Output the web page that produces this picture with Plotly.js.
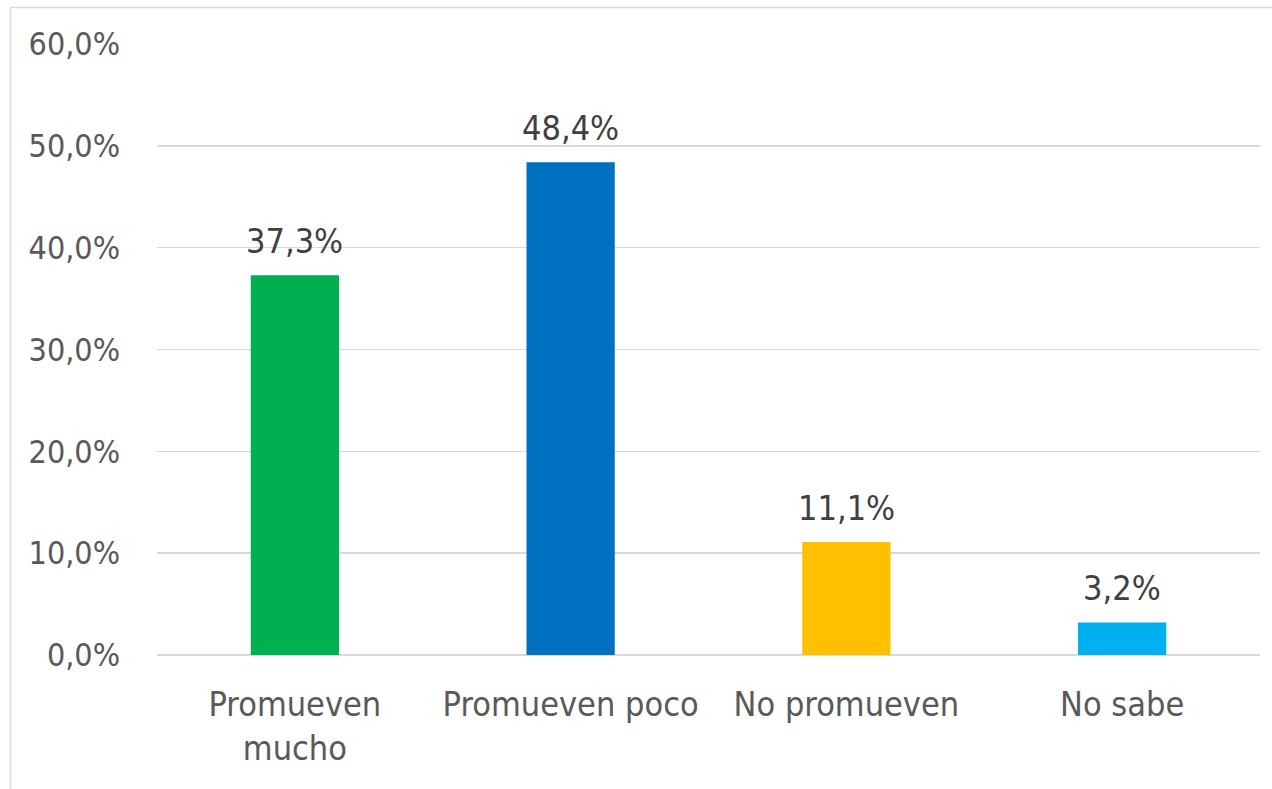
<!DOCTYPE html>
<html>
<head>
<meta charset="utf-8">
<script src="https://cdn.plot.ly/plotly-3.0.1.min.js"></script>
<style>
html,body{margin:0;padding:0;background:#fff;}
#chart{width:1272px;height:789px;}
</style>
</head>
<body>
<div id="chart"></div>
<script>
const categories = ["Promueven<br>mucho", "Promueven poco", "No promueven", "No sabe"];
const values = [37.3, 48.4, 11.1, 3.2];
const barColors = ["#00B050", "#0070C0", "#FFC000", "#00B0F0"];
const tickValues = [0, 10, 20, 30, 40, 50, 60];
const tickLabels = ["0,0%", "10,0%", "20,0%", "30,0%", "40,0%", "50,0%", "60,0%"];
const valueLabels = ["37,3%", "48,4%", "11,1%", "3,2%"];

const FONT = "'DejaVu Sans Condensed', 'DejaVu Sans', sans-serif";
const L = 157, R = 12, T = 44, B = 134;
const W = 1272, H = 789;
const pw = W - L - R, ph = H - T - B;

const trace = {
  type: 'bar',
  x: categories,
  y: values,
  marker: {color: barColors},
  width: 0.32,
  hoverinfo: 'none'
};

const annotations = categories.map((c, i) => ({
  x: c, y: values[i], xref: 'x', yref: 'y',
  text: valueLabels[i],
  showarrow: false,
  yanchor: 'bottom',
  yshift: 12,
  font: {family: FONT, size: 34, color: '#404040'}
}));

const layout = {
  width: W, height: H,
  margin: {l: L, r: R, t: T, b: B, pad: 0},
  paper_bgcolor: '#ffffff',
  plot_bgcolor: '#ffffff',
  showlegend: false,
  font: {family: FONT, size: 34, color: '#595959'},
  xaxis: {
    type: 'category',
    showgrid: false,
    showline: false,
    ticks: '',
    tickfont: {family: FONT, size: 34, color: '#595959'},
    ticklabelstandoff: 26
  },
  yaxis: {
    range: [0, 60],
    tickvals: tickValues,
    ticktext: tickLabels,
    showgrid: true,
    gridcolor: '#D9D9D9',
    gridwidth: 1.5,
    zeroline: true,
    zerolinecolor: '#D9D9D9',
    zerolinewidth: 1.5,
    showline: false,
    ticks: '',
    tickfont: {family: FONT, size: 32, color: '#595959'},
    ticklabelstandoff: 36
  },
  annotations: annotations,
  shapes: [{
    type: 'rect',
    xref: 'paper', yref: 'paper',
    x0: (10.5 - L) / pw, x1: (W + 20 - L) / pw,
    y0: (T + ph - (H + 20)) / ph, y1: (T + ph - 7.5) / ph,
    line: {color: '#D9D9D9', width: 1.5},
    fillcolor: 'rgba(0,0,0,0)',
    layer: 'below'
  }]
};

Plotly.newPlot('chart', [trace], layout, {displayModeBar: false, staticPlot: true});
</script>
</body>
</html>
